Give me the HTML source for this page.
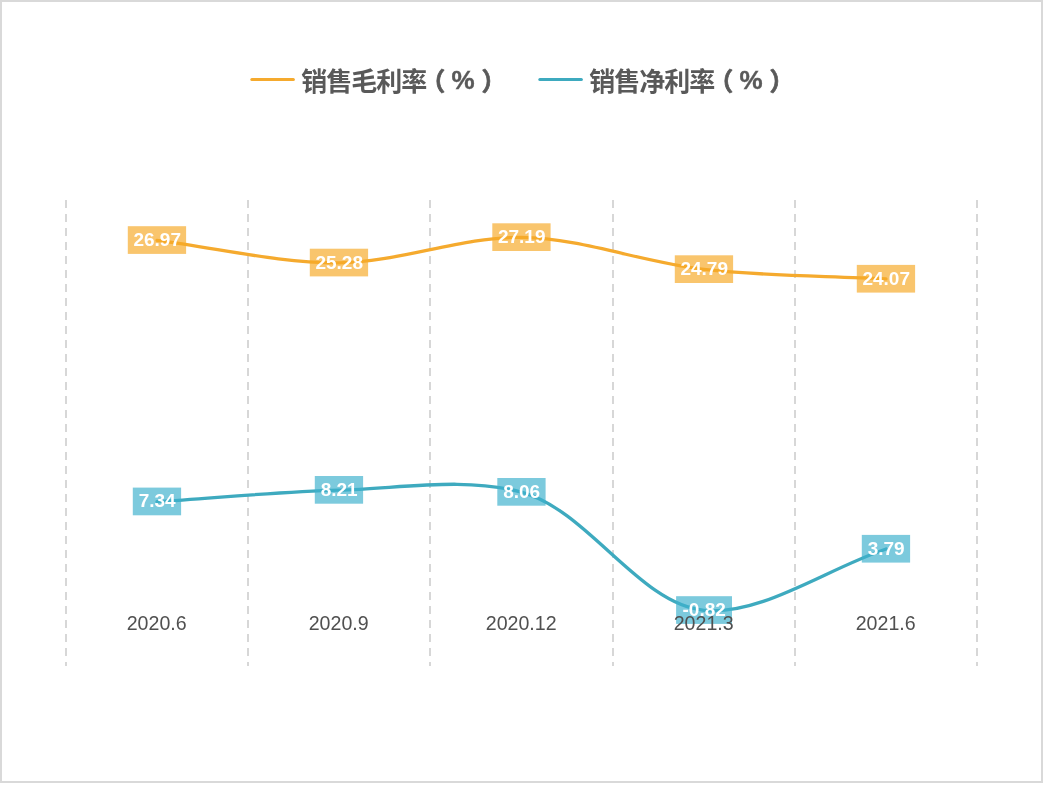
<!DOCTYPE html>
<html lang="zh"><head><meta charset="utf-8"><title>销售毛利率 / 销售净利率</title>
<style>html,body{margin:0;padding:0;background:#fff}svg{display:block}.ax{font-family:"Liberation Sans","Noto Sans CJK SC",sans-serif;font-size:19.6px;fill:#505050}.dl{font-family:"Liberation Sans","Noto Sans CJK SC",sans-serif;font-size:19px;font-weight:bold;fill:#fff}.lg{font-family:"Liberation Sans","Noto Sans CJK SC",sans-serif;font-size:25px;font-weight:bold;fill:#595959}.cj{font-size:26px;letter-spacing:-1px}.pc{font-size:26px;stroke:#595959;stroke-width:.4px}.pr{stroke:#595959;stroke-width:.7px}</style></head><body>
<svg width="1044" height="797" viewBox="0 0 1044 797">
<rect x="0" y="0" width="1044" height="797" fill="#fff"/>
<rect x="1" y="1" width="1041" height="781" fill="#fff" stroke="#d9d9d9" stroke-width="2"/>
<line x1="251.8" y1="79.5" x2="293.4" y2="79.5" stroke="#F5AA2E" stroke-width="3" stroke-linecap="round"/>
<text class="lg cj" x="301.3" y="90.5">销售毛利率</text>
<text class="lg pr" x="420.3" y="91.4">（</text><text class="lg pc" x="451.6" y="89.2">%</text><text class="lg pr" x="481.5" y="91.4">）</text>
<line x1="539.8" y1="79.5" x2="581.4" y2="79.5" stroke="#3EAABF" stroke-width="3" stroke-linecap="round"/>
<text class="lg cj" x="589.3" y="90.5">销售净利率</text>
<text class="lg pr" x="708.3" y="91.4">（</text><text class="lg pc" x="739.6" y="89.2">%</text><text class="lg pr" x="769.5" y="91.4">）</text>
<line x1="66.0" y1="200" x2="66.0" y2="666" stroke="#d7d7d7" stroke-width="2" stroke-dasharray="8 6"/>
<line x1="248.0" y1="200" x2="248.0" y2="666" stroke="#d7d7d7" stroke-width="2" stroke-dasharray="8 6"/>
<line x1="430.0" y1="200" x2="430.0" y2="666" stroke="#d7d7d7" stroke-width="2" stroke-dasharray="8 6"/>
<line x1="613.0" y1="200" x2="613.0" y2="666" stroke="#d7d7d7" stroke-width="2" stroke-dasharray="8 6"/>
<line x1="795.0" y1="200" x2="795.0" y2="666" stroke="#d7d7d7" stroke-width="2" stroke-dasharray="8 6"/>
<line x1="977.0" y1="200" x2="977.0" y2="666" stroke="#d7d7d7" stroke-width="2" stroke-dasharray="8 6"/>
<path d="M157.00,240.34 C217.67,247.84 278.39,263.29 339.00,262.84 C399.90,262.39 460.83,236.38 521.50,237.41 C582.50,238.45 642.74,262.45 704.00,269.37 C764.26,276.17 825.33,275.76 886.00,278.95" fill="none" stroke="#F5AA2E" stroke-width="3.3" stroke-linecap="round" stroke-linejoin="round"/>
<path d="M157.00,501.70 C217.67,497.84 278.27,491.72 339.00,490.12 C399.77,488.52 465.13,476.66 521.50,492.12 C588.66,510.53 639.00,604.16 704.00,610.35 C761.41,615.81 825.33,569.43 886.00,548.97" fill="none" stroke="#3EAABF" stroke-width="3.3" stroke-linecap="round" stroke-linejoin="round"/>
<rect x="127.8" y="226.2" width="58.3" height="27.7" fill="rgba(246,170,40,0.68)"/>
<rect x="309.8" y="248.7" width="58.3" height="27.7" fill="rgba(246,170,40,0.68)"/>
<rect x="492.3" y="223.3" width="58.3" height="27.7" fill="rgba(246,170,40,0.68)"/>
<rect x="674.8" y="255.3" width="58.3" height="27.7" fill="rgba(246,170,40,0.68)"/>
<rect x="856.8" y="264.9" width="58.3" height="27.7" fill="rgba(246,170,40,0.68)"/>
<rect x="132.8" y="487.6" width="48.3" height="27.7" fill="rgba(62,177,205,0.68)"/>
<rect x="314.8" y="476.0" width="48.3" height="27.7" fill="rgba(62,177,205,0.68)"/>
<rect x="497.3" y="478.0" width="48.3" height="27.7" fill="rgba(62,177,205,0.68)"/>
<rect x="676.1" y="596.2" width="55.9" height="27.7" fill="rgba(62,177,205,0.68)"/>
<rect x="861.8" y="534.9" width="48.3" height="27.7" fill="rgba(62,177,205,0.68)"/>
<text class="ax" x="156.7" y="629.9" text-anchor="middle">2020.6</text>
<text class="ax" x="338.7" y="629.9" text-anchor="middle">2020.9</text>
<text class="ax" x="521.2" y="629.9" text-anchor="middle">2020.12</text>
<text class="ax" x="703.7" y="629.9" text-anchor="middle">2021.3</text>
<text class="ax" x="885.7" y="629.9" text-anchor="middle">2021.6</text>
<text class="dl" x="157.2" y="246.0" text-anchor="middle">26.97</text>
<text class="dl" x="339.2" y="268.5" text-anchor="middle">25.28</text>
<text class="dl" x="521.7" y="243.1" text-anchor="middle">27.19</text>
<text class="dl" x="704.2" y="275.1" text-anchor="middle">24.79</text>
<text class="dl" x="886.2" y="284.7" text-anchor="middle">24.07</text>
<text class="dl" x="157.2" y="507.4" text-anchor="middle">7.34</text>
<text class="dl" x="339.2" y="495.8" text-anchor="middle">8.21</text>
<text class="dl" x="521.7" y="497.8" text-anchor="middle">8.06</text>
<text class="dl" x="704.2" y="616.0" text-anchor="middle">-0.82</text>
<text class="dl" x="886.2" y="554.7" text-anchor="middle">3.79</text>
</svg></body></html>
